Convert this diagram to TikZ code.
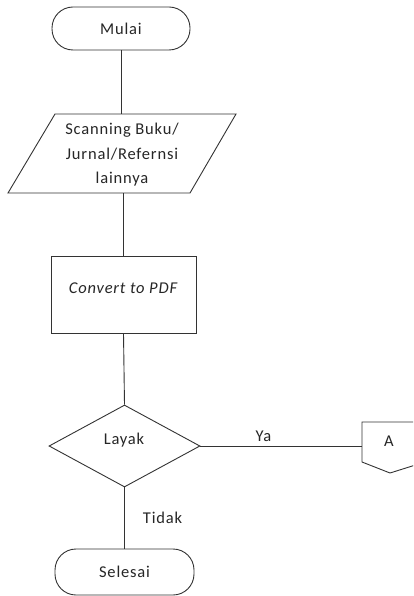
\documentclass[tikz,border=0pt]{standalone}
\usepackage{fontspec}
\setmainfont{Carlito}[LetterSpace=5]
\usetikzlibrary{shapes.geometric}
\tikzset{
  ln/.style={draw=black!80, line width=0.9pt},
  term/.style={ln, rectangle, rounded corners=21pt, minimum width=138pt, minimum height=43pt, inner sep=0pt},
  txt/.style={font=\fontsize{16.5}{24.5}\selectfont, inner sep=0pt, align=center, text=black!85},
}
\begin{document}
\begin{tikzpicture}[x=1pt,y=-1pt]
\useasboundingbox (0,0) rectangle (413,596);
\clip (0,0) rectangle (413,596);
\fill[white] (0,0) rectangle (413,596);
% Mulai
\node[term, txt] (mulai) at (121,28.5) {Mulai};
% Parallelogram
\coordinate (scanT) at (121,114);
\coordinate (scanB) at (123,193);
\draw[ln] (55,114) -- (236,114) -- (190,193) -- (8,193) -- cycle;
\node[txt] (scan) at (122,155) {Scanning Buku/\\Jurnal/Refernsi\\lainnya};
% Convert
\node[ln, rectangle, minimum width=145pt, minimum height=77pt, inner sep=0pt] (conv) at (123.5,294.5) {};
\node[txt, font=\fontsize{16.5}{18}\selectfont\itshape] (convt) at (123,288) {Convert to PDF};
% Diamond
\node[ln, diamond, aspect=1.84, minimum width=151pt, minimum height=82pt, inner sep=0pt] (layak) at (124.5,446) {};
\node[txt] (layakt) at (124,440) {Layak};
% Off-page connector
\draw[ln] (362,422) -- (425,422) -- (425,462) -- (390,473) -- (362,462) -- cycle;
\coordinate (offL) at (362,446);
\node[txt] (offt) at (389,441) {A};
% Selesai
\node[term, txt, minimum height=46pt, minimum width=139pt] (selesai) at (124.5,572) {Selesai};
% connectors
\draw[ln] (mulai.south) -- (scanT);
\draw[ln] (scanB) -- (conv.north -| scanB);
\draw[ln] (conv.south) -- (layak.north);
\draw[ln] (layak.east) -- node[txt, above=4pt, pos=0.39] (ya) {Ya} (offL);
\draw[ln] (layak.south) -- node[txt, right=18pt, pos=0.5] (tidak) {Tidak} (selesai.north);
\end{tikzpicture}
\end{document}
